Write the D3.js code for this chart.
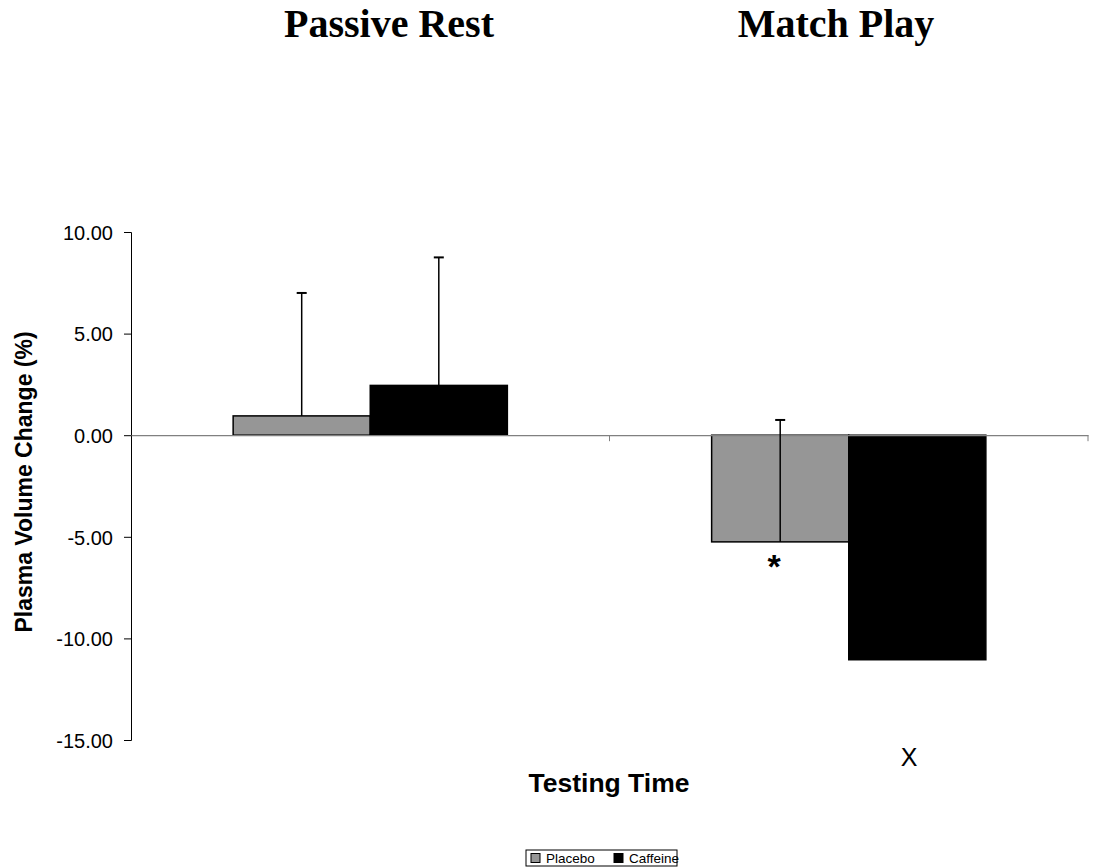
<!DOCTYPE html>
<html>
<head>
<meta charset="utf-8">
<script src="https://cdn.jsdelivr.net/npm/d3@7"></script>
<style>
  body { margin: 0; background: #fff; }
  svg { display: block; }
</style>
</head>
<body>
<div id="chart"></div>
<script>
// data
const categories = ["Passive Rest", "Match Play"];
const series = ["Placebo", "Caffeine"];
const placeboValues = [0.95, -5.25];
const caffeineValues = [2.45, -11.05];
const placeboSD = [6.05, 6.0];
const caffeineSD = [6.3, null];
const yTicks = [10, 5, 0, -5, -10, -15];
const colors = ["#969696", "#000000"];

const width = 1096, height = 867;
const fontSans = "Arial, 'Liberation Sans', sans-serif";

const svg = d3.select("#chart").append("svg")
  .attr("width", width)
  .attr("height", height);

// scales
const x0 = d3.scaleBand().domain(categories).range([131, 1088]).padding(0);
const x1 = d3.scaleBand().domain(series).range([0, x0.bandwidth()])
  .paddingInner(0).paddingOuter(0.745);
const y = d3.scaleLinear().domain([-15, 10]).range([740, 232]);

const rows = [];
categories.forEach((c, i) => {
  rows.push({ cat: c, s: "Placebo", v: placeboValues[i], sd: placeboSD[i], color: colors[0] });
  rows.push({ cat: c, s: "Caffeine", v: caffeineValues[i], sd: caffeineSD[i], color: colors[1] });
});

// y axis
const fmt = d3.format(".2f");
const yAxis = d3.axisLeft(y).tickValues(yTicks).tickSize(7)
  .tickFormat(d => fmt(d).replace("\u2212", "-"));
const yGroup = svg.append("g")
  .attr("transform", "translate(131,0)")
  .call(yAxis);
yGroup.select(".domain").attr("stroke", "#000");
yGroup.selectAll(".tick line").attr("stroke", "#000");
yGroup.selectAll(".tick text")
  .attr("x", -18)
  .attr("dy", "0.36em")
  .style("font-family", fontSans)
  .style("font-size", "20px")
  .attr("fill", "#000");

// bars
svg.selectAll(".bar")
  .data(rows)
  .enter().append("rect")
  .attr("class", "bar")
  .attr("x", d => x0(d.cat) + x1(d.s))
  .attr("y", d => y(Math.max(0, d.v)))
  .attr("width", x1.bandwidth())
  .attr("height", d => Math.abs(y(d.v) - y(0)))
  .attr("fill", d => d.color)
  .attr("stroke", "#000")
  .attr("stroke-width", 1.5);

// x axis at zero
const xAxis = d3.axisBottom(x0).tickSize(0).tickFormat("");
const xGroup = svg.append("g")
  .attr("transform", `translate(0,${y(0)})`)
  .call(xAxis);
xGroup.select(".domain").attr("stroke", "#808080").attr("stroke-width", 1.2);
xGroup.selectAll(".tick").remove();
// category boundary ticks
const bounds = [x0(categories[1]), x0.range()[1]];
svg.selectAll(".xtick")
  .data(bounds)
  .enter().append("line")
  .attr("class", "xtick")
  .attr("x1", d => d).attr("x2", d => d)
  .attr("y1", y(0)).attr("y2", y(0) + 6)
  .attr("stroke", "#808080");

// error bars (plus only)
const eb = rows.filter(d => d.sd != null);
const cx = d => x0(d.cat) + x1(d.s) + x1.bandwidth() / 2;
svg.selectAll(".err")
  .data(eb)
  .enter().append("line")
  .attr("class", "err")
  .attr("x1", cx).attr("x2", cx)
  .attr("y1", d => y(d.v))
  .attr("y2", d => y(d.v + d.sd))
  .attr("stroke", "#000")
  .attr("stroke-width", 1.5);
svg.selectAll(".cap")
  .data(eb)
  .enter().append("line")
  .attr("class", "cap")
  .attr("x1", d => cx(d) - 5).attr("x2", d => cx(d) + 5)
  .attr("y1", d => y(d.v + d.sd))
  .attr("y2", d => y(d.v + d.sd))
  .attr("stroke", "#000")
  .attr("stroke-width", 2);

// titles
svg.selectAll(".ctitle")
  .data([{ t: "Passive Rest", x: 389 }, { t: "Match Play", x: 836 }])
  .enter().append("text")
  .attr("class", "ctitle")
  .attr("x", d => d.x)
  .attr("y", 37)
  .attr("text-anchor", "middle")
  .style("font-family", "'Times New Roman', 'Liberation Serif', serif")
  .style("font-weight", "bold")
  .style("font-size", "40px")
  .text(d => d.t);

// axis labels
svg.append("text")
  .attr("transform", "translate(32,482) rotate(-90)")
  .attr("text-anchor", "middle")
  .style("font-family", fontSans)
  .style("font-weight", "bold")
  .style("font-size", "23px")
  .text("Plasma Volume Change (%)");

svg.append("text")
  .attr("x", 609).attr("y", 792)
  .attr("text-anchor", "middle")
  .style("font-family", fontSans)
  .style("font-weight", "bold")
  .style("font-size", "26.5px")
  .text("Testing Time");

// annotations
svg.append("text")
  .attr("x", 774)
  .attr("y", 578)
  .attr("text-anchor", "middle")
  .style("font-family", fontSans)
  .style("font-weight", "bold")
  .style("font-size", "34px")
  .text("*");

svg.append("text")
  .attr("x", 909).attr("y", 766)
  .attr("text-anchor", "middle")
  .style("font-family", fontSans)
  .style("font-size", "25px")
  .text("X");

// legend
const lg = svg.append("g").attr("transform", "translate(526,850)");
lg.append("rect")
  .attr("width", 151).attr("height", 16)
  .attr("fill", "#fff").attr("stroke", "#000");
const items = lg.selectAll(".li")
  .data(series)
  .enter().append("g")
  .attr("class", "li")
  .attr("transform", (d, i) => `translate(${5 + i * 83},0)`);
items.append("rect")
  .attr("x", 0).attr("y", 3.5)
  .attr("width", 9).attr("height", 9)
  .attr("fill", (d, i) => colors[i])
  .attr("stroke", "#000");
items.append("text")
  .attr("x", 15).attr("y", 13.3)
  .style("font-family", fontSans)
  .style("font-size", "13.5px")
  .text(d => d);
</script>
</body>
</html>
